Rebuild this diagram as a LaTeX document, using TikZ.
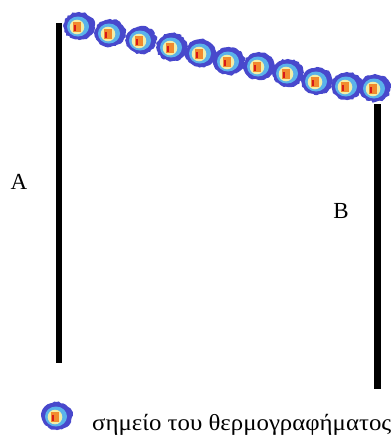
\documentclass[tikz,border=0pt]{standalone}
\usepackage{fontspec}
\setmainfont{Liberation Serif}
\usetikzlibrary{decorations.pathmorphing}
\definecolor{blobblue}{HTML}{4848CC}
\definecolor{bloblight}{HTML}{5AB2EA}
\definecolor{blobyellow}{HTML}{F2EEA8}
\definecolor{bloborange}{HTML}{F28A2E}
\definecolor{blobred}{HTML}{D81818}
\tikzset{
  pole/.style={line width=6.5pt, black},
  lbl/.style={font=\fontsize{23}{27}\selectfont, inner sep=0pt},
  blob/.pic={
    \fill[blobblue, decorate, decoration={random steps, segment length=2.2pt, amplitude=0.9pt}]
      (0,0) ellipse (15.5 and 13.8);
    \fill[bloblight] (-1,0.5) ellipse (11 and 10);
    \fill[blobyellow] (-2,1) ellipse (7.3 and 7.3);
    \fill[bloborange] (-6.5,-4.5) rectangle (1.5,5.5);
    \fill[blobred] (-5.5,-1) rectangle (-3.2,4.5);
  }
}
\begin{document}
\begin{tikzpicture}[x=1pt, y=-1pt]
  \useasboundingbox (0,0) rectangle (391,437);
  % poles
  \coordinate (Atop) at (59,23);
  \coordinate (Abot) at (59,363);
  \coordinate (Btop) at (377.5,104);
  \coordinate (Bbot) at (377.5,389);
  \draw[pole] (Atop) -- (Abot);
  \draw[pole] (Btop) -- (Bbot);
  % thermogram points
  \foreach \px/\py [count=\i] in {79/26,110/33,141/40,172/47,201/53,229/61,259/66,288/73,317/81,347/86,375/88}
    \pic (p\i) at (\px,\py) {blob};
  % labels
  \node[lbl] (A) at (19,182) {A};
  \node[lbl] (B) at (341,211) {B};
  % legend
  \pic (leg) at (57,416) {blob};
  \node[lbl, anchor=base west] (legtext) at (92,430) {\scalebox{1.08}[1]{σημείο του θερμογραφήματος}};
\end{tikzpicture}
\end{document}
